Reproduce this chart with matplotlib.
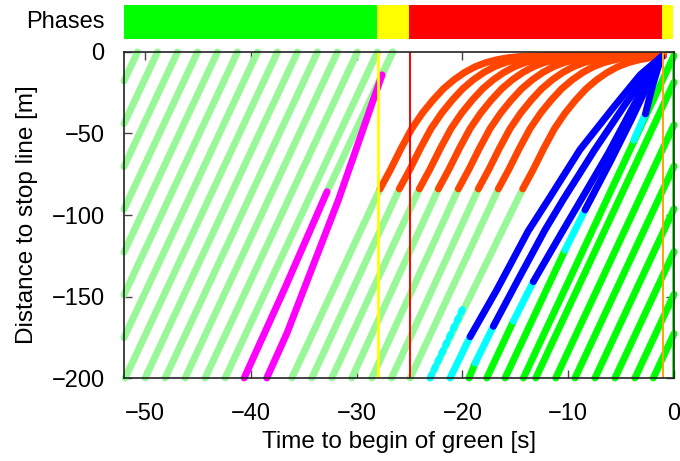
import matplotlib
matplotlib.use("Agg")
import matplotlib.pyplot as plt

plt.rcParams["font.family"] = ["Liberation Sans", "DejaVu Sans"]

# ── Data ───────────────────────────────────────────────
phase_start = [-52, -28, -25, -1]
phase_end = [-28, -25, -1, 0]
phase_colors = ["#00ff00", "#ffff00", "#ff0000", "#ffff00"]

# free-flow vehicles of the previous green (start -> end, straight)
lg_x0 = [-52, -52, -52, -52, -52, -52, -52, -51.89, -50.0, -48.11, -46.22, -44.33, -42.44]
lg_y0 = [-17.8, -44.0, -70.3, -96.5, -122.8, -149.0, -175.3, -200, -200, -200, -200, -200, -200]
lg_x1 = [-50.72, -48.83, -46.94, -45.05, -43.16, -41.27, -39.38, -37.49, -35.6, -33.71, -31.82, -29.93, -28.04]
lg_y1 = [0, 0, 0, 0, 0, 0, 0, 0, 0, 0, 0, 0, 0]

# vehicles that accelerate through the yellow (magenta part, then light green)
mag_x = [[-40.64, -36.8, -32.8], [-38.5, -36.6, -31.73, -27.6]]
mag_y = [[-200, -145, -85.7], [-200, -172.6, -90.8, -14.0]]
mag_top_x = [-26.6, -26.6]

# vehicles that stop: approach (light green) then brake (orange)
stop_bottom_x = [-36.13, -34.24, -32.35, -30.46, -28.57, -26.7, -24.95, -23.06]
stop_brake_x = [-27.79, -25.97, -24.08, -22.28, -20.39, -18.5, -16.61, -14.3]
brake_dt = [0, 1, 2, 3, 4, 5, 6, 7, 8, 9, 10, 11, 12, 13, 14, 16]
brake_y = [-84, -72, -59, -47, -37.5, -29.5, -22.5, -17, -12.5, -9, -6.5, -4.8, -3.6, -2.9, -2.5, -2.2]
queue_end_x = -1.0
striped_top = (-19.95, -157.2)

# vehicles that slow down to reach the stop line at green (green -> cyan -> blue)
gb_bottom_x = [-21.17, -19.38, -17.7, -15.97]
gb_cyan_x = [-21.17, -18.8, -15.19, -10.3]
gb_cyan_y = [-200, -190.9, -165.2, -121.5]
blue_x = [
    [-19.28, -16.76, -13.8, -11.9, -8.9, -5.6, -3.2, -1.2],
    [-17.08, -14.6, -12.2, -10.5, -7.5, -4.6, -2.6, -1.2],
    [-13.3, -10.47, -8.8, -6.2, -3.9, -2.3, -1.2],
    [-8.41, -6.0, -4.0, -2.4, -1.2],
    [-2.7, -2.0, -1.2],
]
blue_y = [
    [-174.7, -146, -110, -90.8, -60, -33, -14, -3],
    [-168.3, -138, -109.2, -90.8, -60, -32, -14, -3],
    [-140.9, -109.2, -90.8, -62, -34, -15, -3],
    [-96.9, -67, -41, -19, -3],
    [-38.0, -20, -3],
]
# short cyan piece of the last slowing vehicle (on top of its green line)
late_cyan_x = [-3.8, -2.7]
late_cyan_y = [-54.0, -38.0]

# free-flow vehicles of the coming green (bright green, run to x = 0)
gf_bottom_x = [-14.24, -13.07, -11.18, -9.36, -7.47, -5.58, -3.69, -1.96]
gf_end_y = [-2.2, -18.5, -44.7, -70.0, -96.2, -122.5, -148.7, -172.8]

# ── Style ──────────────────────────────────────────────
LW = 5.0
C_LG, C_MAG, C_OR = "#98f898", "#ff00ff", "#ff4500"
C_BLUE, C_CYAN, C_GREEN = "#0000ff", "#00ffff", "#00ff00"

fig = plt.figure(figsize=(6.8, 4.61), dpi=100)
ax = fig.add_axes([124 / 680, 83 / 461, 550 / 680, 326 / 461])
axp = fig.add_axes([124 / 680, 422 / 461, 549 / 680, 34 / 461])


def seg(xs, ys, color, **kw):
    ax.plot(xs, ys, color=color, lw=LW, solid_capstyle="round",
            solid_joinstyle="round", clip_on=False, **kw)


# previous green
for x0, y0, x1, y1 in zip(lg_x0, lg_y0, lg_x1, lg_y1):
    seg([x0, x1], [y0, y1], C_LG)

for xs, ys, xt in zip(mag_x, mag_y, mag_top_x):
    seg([xs[-1], xt], [ys[-1], 0], C_LG)
    seg(xs, ys, C_MAG)

# stopping vehicles
for xb, xs in zip(stop_bottom_x, stop_brake_x):
    seg([xb, xs], [-200, brake_y[0]], C_LG)
    bx = [xs + d for d in brake_dt] + [queue_end_x]
    by = brake_y + [brake_y[-1]]
    seg([x for x in bx if x <= queue_end_x] + [queue_end_x],
        by[:len([x for x in bx if x <= queue_end_x])] + [brake_y[-1]], C_OR)
# striped part of the last stopping vehicle
ax.plot([stop_bottom_x[-1], striped_top[0]], [-200, striped_top[1]], color=C_CYAN,
        lw=LW, ls=(0, (0.5, 0.8)), dash_capstyle="round", clip_on=False)

# free-flow vehicles of the coming green
for xb, ye in zip(gf_bottom_x, gf_end_y):
    seg([xb, 0], [-200, ye], C_GREEN)
seg(late_cyan_x, late_cyan_y, C_CYAN)

# slowing vehicles
for xb, cx, cy in zip(gb_bottom_x, gb_cyan_x, gb_cyan_y):
    if cx != xb:
        seg([xb, cx], [-200, cy], C_GREEN)
for cx, cy, bx, by in zip(gb_cyan_x, gb_cyan_y, blue_x, blue_y):
    seg([cx, bx[0]], [cy, by[0]], C_CYAN)
for bx, by in zip(blue_x, blue_y):
    seg(bx, by, C_BLUE)

# signal changes
ax.axvline(-28, color="#ffff00", lw=2.0, zorder=5)
ax.axvline(-25, color="#ff0000", lw=1.4, zorder=5)
ax.axvline(-1, color="#ffa500", lw=1.4, zorder=5)
ax.axvline(-0.1, color="#00ff00", lw=1.2, zorder=5)

ax.set_xlim(-52, 0)
ax.set_ylim(-200, 0)
ax.set_xticks([-50, -40, -30, -20, -10, 0])
ax.set_yticks([-200, -150, -100, -50, 0])
ax.tick_params(direction="in", length=6, width=1, color="#444444",
               top=True, right=True, labelsize=17, pad=14)
ax.tick_params(axis="x", pad=18)
for s in ax.spines.values():
    s.set_color("#222222")
    s.set_linewidth(1.2)
    s.set_zorder(6)
ax.set_xlabel("Time to begin of green [s]", fontsize=17.5, labelpad=4)
ax.set_ylabel("Distance to stop line [m]", fontsize=17.5, labelpad=10)

# phase bar
axp.barh([0] * len(phase_start), [e - s for s, e in zip(phase_start, phase_end)],
         left=phase_start, color=phase_colors, height=1.0)
axp.set_xlim(-52, 0)
axp.set_ylim(-0.5, 0.5)
axp.axis("off")
axp.text(-0.036, 0.5, "Phases", transform=axp.transAxes, ha="right", va="center", fontsize=17)

fig.savefig("out.png", dpi=100)
